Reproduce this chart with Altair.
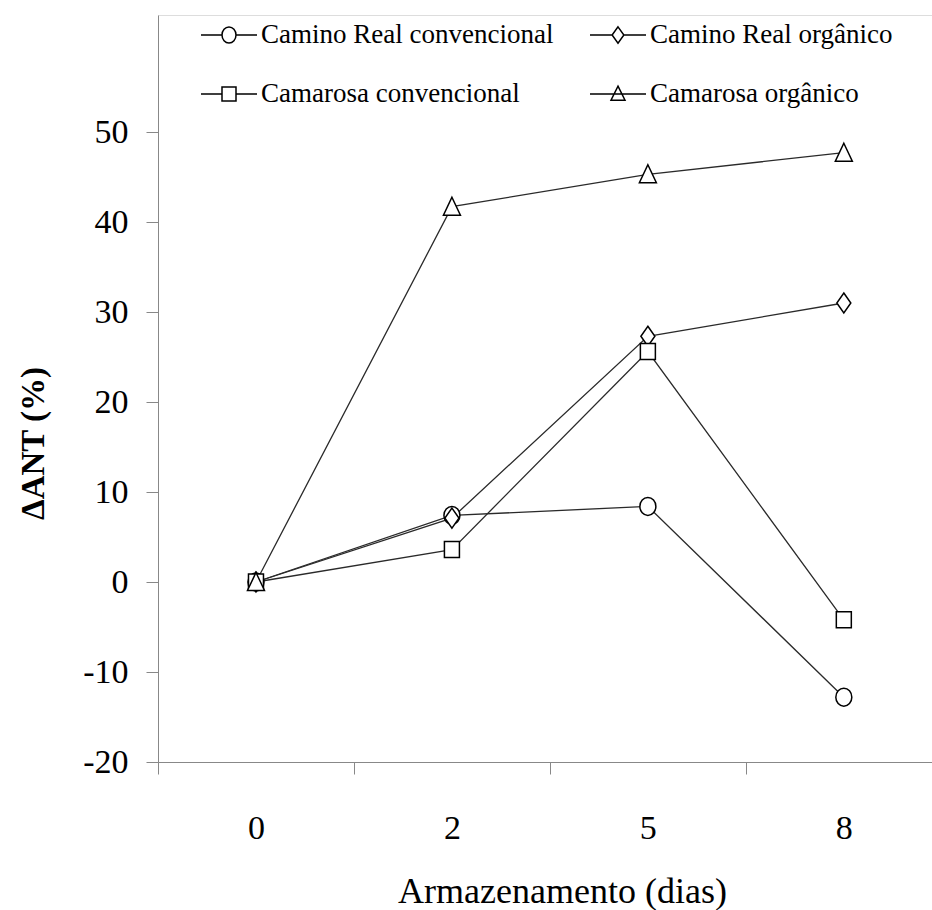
import altair as alt
import pandas as pd

# ---- data ----
days = ["0", "2", "5", "8"]
series = ["Camino Real convencional", "Camino Real orgânico",
          "Camarosa convencional", "Camarosa orgânico"]
cr_conv = [0.0, 7.4, 8.4, -12.8]
cr_org = [0.0, 7.1, 27.3, 31.0]
cam_conv = [0.0, 3.6, 25.6, -4.2]
cam_org = [0.0, 41.7, 45.3, 47.7]
y_ticks = [-20, -10, 0, 10, 20, 30, 40, 50]

values = [cr_conv, cr_org, cam_conv, cam_org]
rows = []
for s, vals in zip(series, values):
    for i, (d, v) in enumerate(zip(days, vals)):
        rows.append({"serie": s, "dia": d, "idx": i, "aant": v})
df = pd.DataFrame(rows)

FONT = "Liberation Serif"

# point shapes in the plot
plot_shapes = [
    "M-0.8,0A0.8,0.9,0,1,1,0.8,0A0.8,0.9,0,1,1,-0.8,0Z",
    "M0,-1L0.7,0L0,1L-0.7,0Z",
    "M-0.75,-0.8L0.75,-0.8L0.75,0.8L-0.75,0.8Z",
    "M0,-0.95L0.85,0.85L-0.85,0.85Z",
]
# legend shapes: line with marker
legend_shapes = [
    "M-1,0L-0.25,0M0.25,0L1,0M-0.25,0A0.25,0.29,0,1,1,0.25,0A0.25,0.29,0,1,1,-0.25,0Z",
    "M-1,0L-0.21,0M0.21,0L1,0M0,-0.29L0.21,0L0,0.29L-0.21,0Z",
    "M-1,0L-0.25,0M0.25,0L1,0M-0.25,-0.25L0.25,-0.25L0.25,0.25L-0.25,0.25Z",
    "M-1,0L1,0M0,-0.28L0.25,0.22L-0.25,0.22Z",
]

label_arr = "[" + ",".join("'" + d + "'" for d in days) + "]"
x_axis = alt.Axis(
    values=[-0.5, 0, 0.5, 1, 1.5, 2, 2.5, 3],
    labelExpr="datum.value % 1 == 0 ? " + label_arr + "[datum.value] : ''",
    tickOpacity=alt.condition("datum.value % 1 == 0", alt.value(0), alt.value(1)),
    title="Armazenamento (dias)",
    titleX=404, titleY=140, titleAlign="center", titleBaseline="alphabetic",
    titleFontSize=36, titleFontWeight="normal", titleFont=FONT,
    labelFontSize=34, labelFont=FONT, labelPadding=37, labelFlush=False,
    tickSize=12, grid=False,
)
y_axis = alt.Axis(
    values=y_ticks,
    labelExpr="'' + datum.value",
    title="ΔANT (%)",
    titleX=-125, titleY=428, titleAlign="center", titleBaseline="middle",
    titleAngle=270,
    titleFontSize=33, titleFontWeight="bold", titleFont=FONT,
    labelFontSize=34, labelFont=FONT, labelPadding=18,
    tickSize=12, grid=False,
)

x_enc = alt.X("idx:Q", scale=alt.Scale(domain=[-0.5, 3.45], nice=False, zero=False), axis=x_axis)
y_enc = alt.Y("aant:Q", scale=alt.Scale(domain=[-20, 63], nice=False, zero=False), axis=y_axis)

# legend-only layer (drawn first, tiny marks hidden under the real markers)
legend_layer = alt.Chart(df).mark_point(
    filled=True, fill="white", stroke="black", strokeWidth=1.5, opacity=1, size=1
).encode(
    x=x_enc, y=y_enc,
    shape=alt.Shape(
        "serie:N",
        scale=alt.Scale(domain=series, range=legend_shapes),
        legend=alt.Legend(
            title=None, orient="none", legendX=42, legendY=-9, columns=2,
            direction="horizontal",
            columnPadding=33, rowPadding=17, symbolSize=3136,
            symbolStrokeWidth=1.5,
            labelFont=FONT, labelFontSize=27, labelColor="black",
            labelOffset=3, labelLimit=0,
        ),
    ),
)

lines = alt.Chart(df).mark_line(color="#2a2a2a", strokeWidth=1.3).encode(
    x=x_enc, y=y_enc, detail="serie:N"
)

points = alt.Chart(df).mark_point(
    filled=True, fill="white", stroke="black", strokeWidth=1.5, opacity=1, size=400
).encode(
    x=x_enc, y=y_enc,
    shape=alt.Shape("serie:N", scale=alt.Scale(domain=series, range=plot_shapes), legend=None),
)

chart = alt.layer(legend_layer, lines, points).resolve_scale(
    shape="independent"
).properties(
    width=774, height=747,
    padding={"left": 158, "top": 15, "right": 0, "bottom": 148},
    autosize=alt.AutoSizeParams(type="none"),
).configure_view(stroke=None).configure_axis(
    domainColor="black", domainWidth=1.5, tickColor="black", tickWidth=1.5,
    labelColor="black", titleColor="black",
).configure(background="white")

chart.save("out.html", embed_options={"renderer": "svg", "actions": False})
